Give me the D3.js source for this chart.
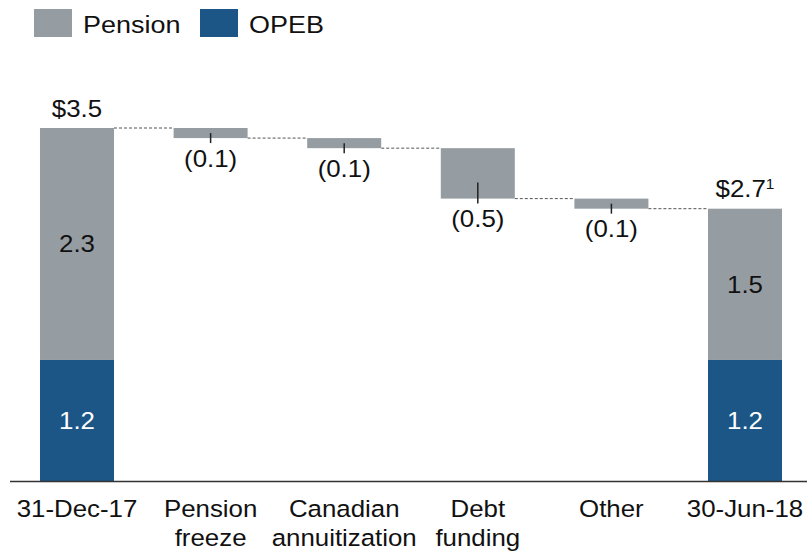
<!DOCTYPE html>
<html><head><meta charset="utf-8">
<script src="https://cdn.jsdelivr.net/npm/d3@7"></script>
<style>body{margin:0;background:#fff}svg{display:block;font-family:"Liberation Sans",Arial,sans-serif}</style>
</head><body>
<svg id="c" width="807" height="553"></svg>
<script>
const categories = [["31-Dec-17"],["Pension","freeze"],["Canadian","annuitization"],["Debt","funding"],["Other"],["30-Jun-18"]];
const catKeys = categories.map(d => d.join(" "));
const types = ["total","delta","delta","delta","delta","total"];
const pensionValues = [2.3, null, null, null, null, 1.5];
const opebValues = [1.2, null, null, null, null, 1.2];
const deltaValues = [null, -0.1, -0.1, -0.5, -0.1, null];
const totalLabels = ["$3.5", null, null, null, null, "$2.7"];
const totalSup = [null, null, null, null, null, "1"];
const deltaLabels = [null, "(0.1)", "(0.1)", "(0.5)", "(0.1)", null];
const seriesNames = ["Pension", "OPEB"];
const colors = {Pension: "#959da3", OPEB: "#1b5687"};

const svg = d3.select("#c");
const x = d3.scaleBand().domain(catKeys).range([10.2, 811.8]).paddingInner(0.446).paddingOuter(0.223);
const y = d3.scaleLinear().domain([0, 3.5]).range([481, 128]);
const bw = x.bandwidth();
const FS = 23.5, SX = 1.1;

function label(px, py, size, anchor, fill) {
  return svg.append("text")
    .attr("transform", `translate(${px},${py}) scale(${SX},1)`)
    .attr("text-anchor", anchor).attr("font-size", size).attr("fill", fill);
}

let level = 0;
const rows = catKeys.map((k, i) => {
  let r = {k, i};
  if (types[i] === "total") {
    r.start = 0; r.end = opebValues[i] + pensionValues[i];
  } else {
    r.start = level; r.end = level + deltaValues[i];
  }
  level = r.end;
  return r;
});

// connectors
for (let i = 0; i < rows.length - 1; i++) {
  const lv = rows[i].end;
  svg.append("line")
    .attr("x1", x(catKeys[i]) + bw).attr("x2", x(catKeys[i+1]))
    .attr("y1", y(lv)).attr("y2", y(lv))
    .attr("stroke", "#555").attr("stroke-width", 1).attr("stroke-dasharray", "3,2");
}

rows.forEach(r => {
  const x0 = x(r.k), cx = x0 + bw / 2;
  if (types[r.i] === "total") {
    const o = opebValues[r.i], p = pensionValues[r.i];
    svg.append("rect").attr("x", x0).attr("width", bw)
      .attr("y", y(o)).attr("height", y(0) - y(o)).attr("fill", colors.OPEB);
    svg.append("rect").attr("x", x0).attr("width", bw)
      .attr("y", y(o + p)).attr("height", y(o) - y(o + p)).attr("fill", colors.Pension);
    label(cx, (y(0) + y(o)) / 2 + 8.5, FS, "middle", "#fff").text(o.toFixed(1));
    label(cx, (y(o) + y(o + p)) / 2 + 8.5, FS, "middle", "#111").text(p.toFixed(1));
    const t = label(cx, y(o + p) - 11.5, FS, "middle", "#111");
    t.append("tspan").text(totalLabels[r.i]);
    if (totalSup[r.i]) t.append("tspan").attr("font-size", 14).attr("dy", -8).text(totalSup[r.i]);
  } else {
    const top = y(Math.max(r.start, r.end)), bot = y(Math.min(r.start, r.end));
    svg.append("rect").attr("x", x0).attr("width", bw)
      .attr("y", top).attr("height", bot - top).attr("fill", colors.Pension);
    const mid = (top + bot) / 2;
    svg.append("line").attr("x1", cx).attr("x2", cx)
      .attr("y1", Math.max(mid, bot - 16)).attr("y2", bot + 5)
      .attr("stroke", "#222").attr("stroke-width", 1.5);
    label(cx, bot + 28.5, FS, "middle", "#111").text(deltaLabels[r.i]);
  }
});

// axis line
svg.append("line").attr("x1", 10).attr("x2", 807).attr("y1", 481.5).attr("y2", 481.5)
  .attr("stroke", "#333").attr("stroke-width", 1.5);

// category labels
categories.forEach((lines, i) => {
  const t = label(x(catKeys[i]) + bw / 2, 516.5, FS, "middle", "#111");
  lines.forEach((l, j) => t.append("tspan").attr("x", 0).attr("dy", j ? 29.5 : 0).text(l));
});

// legend
const legX = [34, 200];
seriesNames.forEach((s, i) => {
  svg.append("rect").attr("x", legX[i]).attr("y", 9).attr("width", 38).attr("height", 28).attr("fill", colors[s]);
  label(legX[i] + 49, 33, 24.5, "start", "#111").text(s);
});
</script>
</body></html>
